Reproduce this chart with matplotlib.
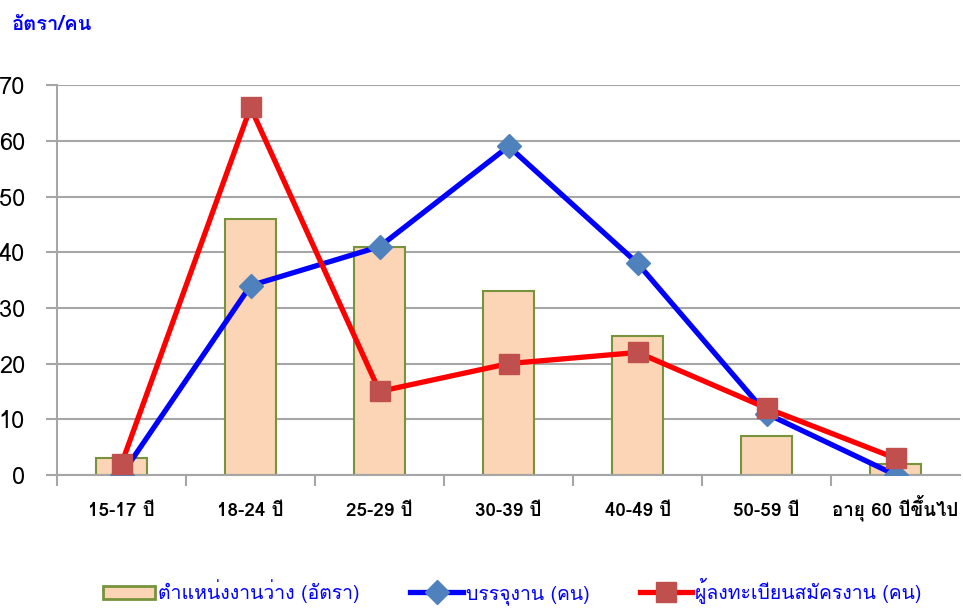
import matplotlib
matplotlib.use('Agg')
import matplotlib.pyplot as plt
from matplotlib import font_manager
from matplotlib.ft2font import FT2Font
from matplotlib.patches import Patch
from matplotlib.lines import Line2D

# ----------------------------------------------------------------
# Data
# ----------------------------------------------------------------
categories = ['15-17 ปี', '18-24 ปี', '25-29 ปี', '30-39 ปี',
              '40-49 ปี', '50-59 ปี', 'อายุ 60 ปีขึ้นไป']
vacancies  = [3, 46, 41, 33, 25, 7, 2]      # ตำแหน่งงานว่าง (อัตรา)
placed     = [0, 34, 41, 59, 38, 11, 0]     # บรรจุงาน (คน)
applicants = [2, 66, 15, 20, 22, 12, 3]     # ผู้ลงทะเบียนสมัครงาน (คน)

label_bar  = 'ตำแหน่งงานว่าง (อัตรา)'
label_blue = 'บรรจุงาน (คน)'
label_red  = 'ผู้ลงทะเบียนสมัครงาน (คน)'
y_title    = 'อัตรา/คน'

# ----------------------------------------------------------------
# Find a font that has Thai glyphs (if any is installed)
# ----------------------------------------------------------------
thai_font = None
for f in font_manager.fontManager.ttflist:
    try:
        if 0x0E15 in FT2Font(f.fname).get_charmap():
            thai_font = f.name
            break
    except Exception:
        pass
families = ([thai_font] if thai_font else []) + ['DejaVu Sans']
plt.rcParams['font.family'] = families

# ----------------------------------------------------------------
# Plot
# ----------------------------------------------------------------
fig = plt.figure(figsize=(9.63, 6.08), dpi=100)
ax = fig.add_axes([0.0592, 0.2188, 0.9378, 0.6412])

x = list(range(len(categories)))
grid_c = '#A6A6A6'

ax.bar(x, vacancies, width=0.4, color='#FBD5B5',
       edgecolor='#77933C', linewidth=1.5, zorder=2)
ax.plot(x, placed, color='#0000FF', linewidth=3.8,
        marker='D', markersize=12, markerfacecolor='#4F81BD',
        markeredgecolor='#4F81BD', zorder=3)
ax.plot(x, applicants, color='#FF0000', linewidth=3.8,
        marker='s', markersize=14, markerfacecolor='#C0504D',
        markeredgecolor='#C0504D', zorder=4)

ax.set_xlim(-0.5, len(categories) - 0.5)
ax.set_ylim(0, 70)
ax.set_yticks(range(0, 71, 10))
ax.yaxis.grid(True, color=grid_c, linewidth=1.5, zorder=0)
ax.set_axisbelow(True)

# category separators as major ticks, labels on minor ticks
ax.set_xticks([i + 0.5 for i in x[:-1]] + [-0.5])
ax.set_xticklabels([])
ax.set_xticks(x, minor=True)
ax.set_xticklabels(categories, minor=True, fontsize=13.5,
                   fontweight='bold')
for t in ax.get_xticklabels(minor=True):
    t.set_va('baseline')
ax.tick_params(axis='x', which='minor', length=0, pad=29.5)
ax.tick_params(axis='x', which='major', length=8, color=grid_c,
               width=1.5)
ax.tick_params(axis='y', length=8, color=grid_c, width=1.5,
               labelsize=17, pad=15)

for s in ['top', 'right']:
    ax.spines[s].set_visible(False)
for s in ['left', 'bottom']:
    ax.spines[s].set_color(grid_c)
    ax.spines[s].set_linewidth(1.5)

fig.text(0.012, 0.96, y_title, color='#0000FF', fontsize=14.5,
         fontweight='bold', ha='left', va='center')

handles = [
    Patch(facecolor='#FBD5B5', edgecolor='#77933C', linewidth=2),
    Line2D([], [], color='#0000FF', linewidth=3.8, marker='D',
           markersize=12, markerfacecolor='#4F81BD',
           markeredgecolor='#4F81BD'),
    Line2D([], [], color='#FF0000', linewidth=3.8, marker='s',
           markersize=14, markerfacecolor='#C0504D',
           markeredgecolor='#C0504D'),
]
leg = fig.legend(handles, [label_bar, label_blue, label_red],
                 loc='center', bbox_to_anchor=(0.532, 0.027), ncol=3,
                 frameon=False, fontsize=14, handlelength=2.7,
                 handletextpad=0.15, columnspacing=2.6)
for t in leg.get_texts():
    t.set_color('#0000FF')

fig.savefig('out.png', dpi=100)
